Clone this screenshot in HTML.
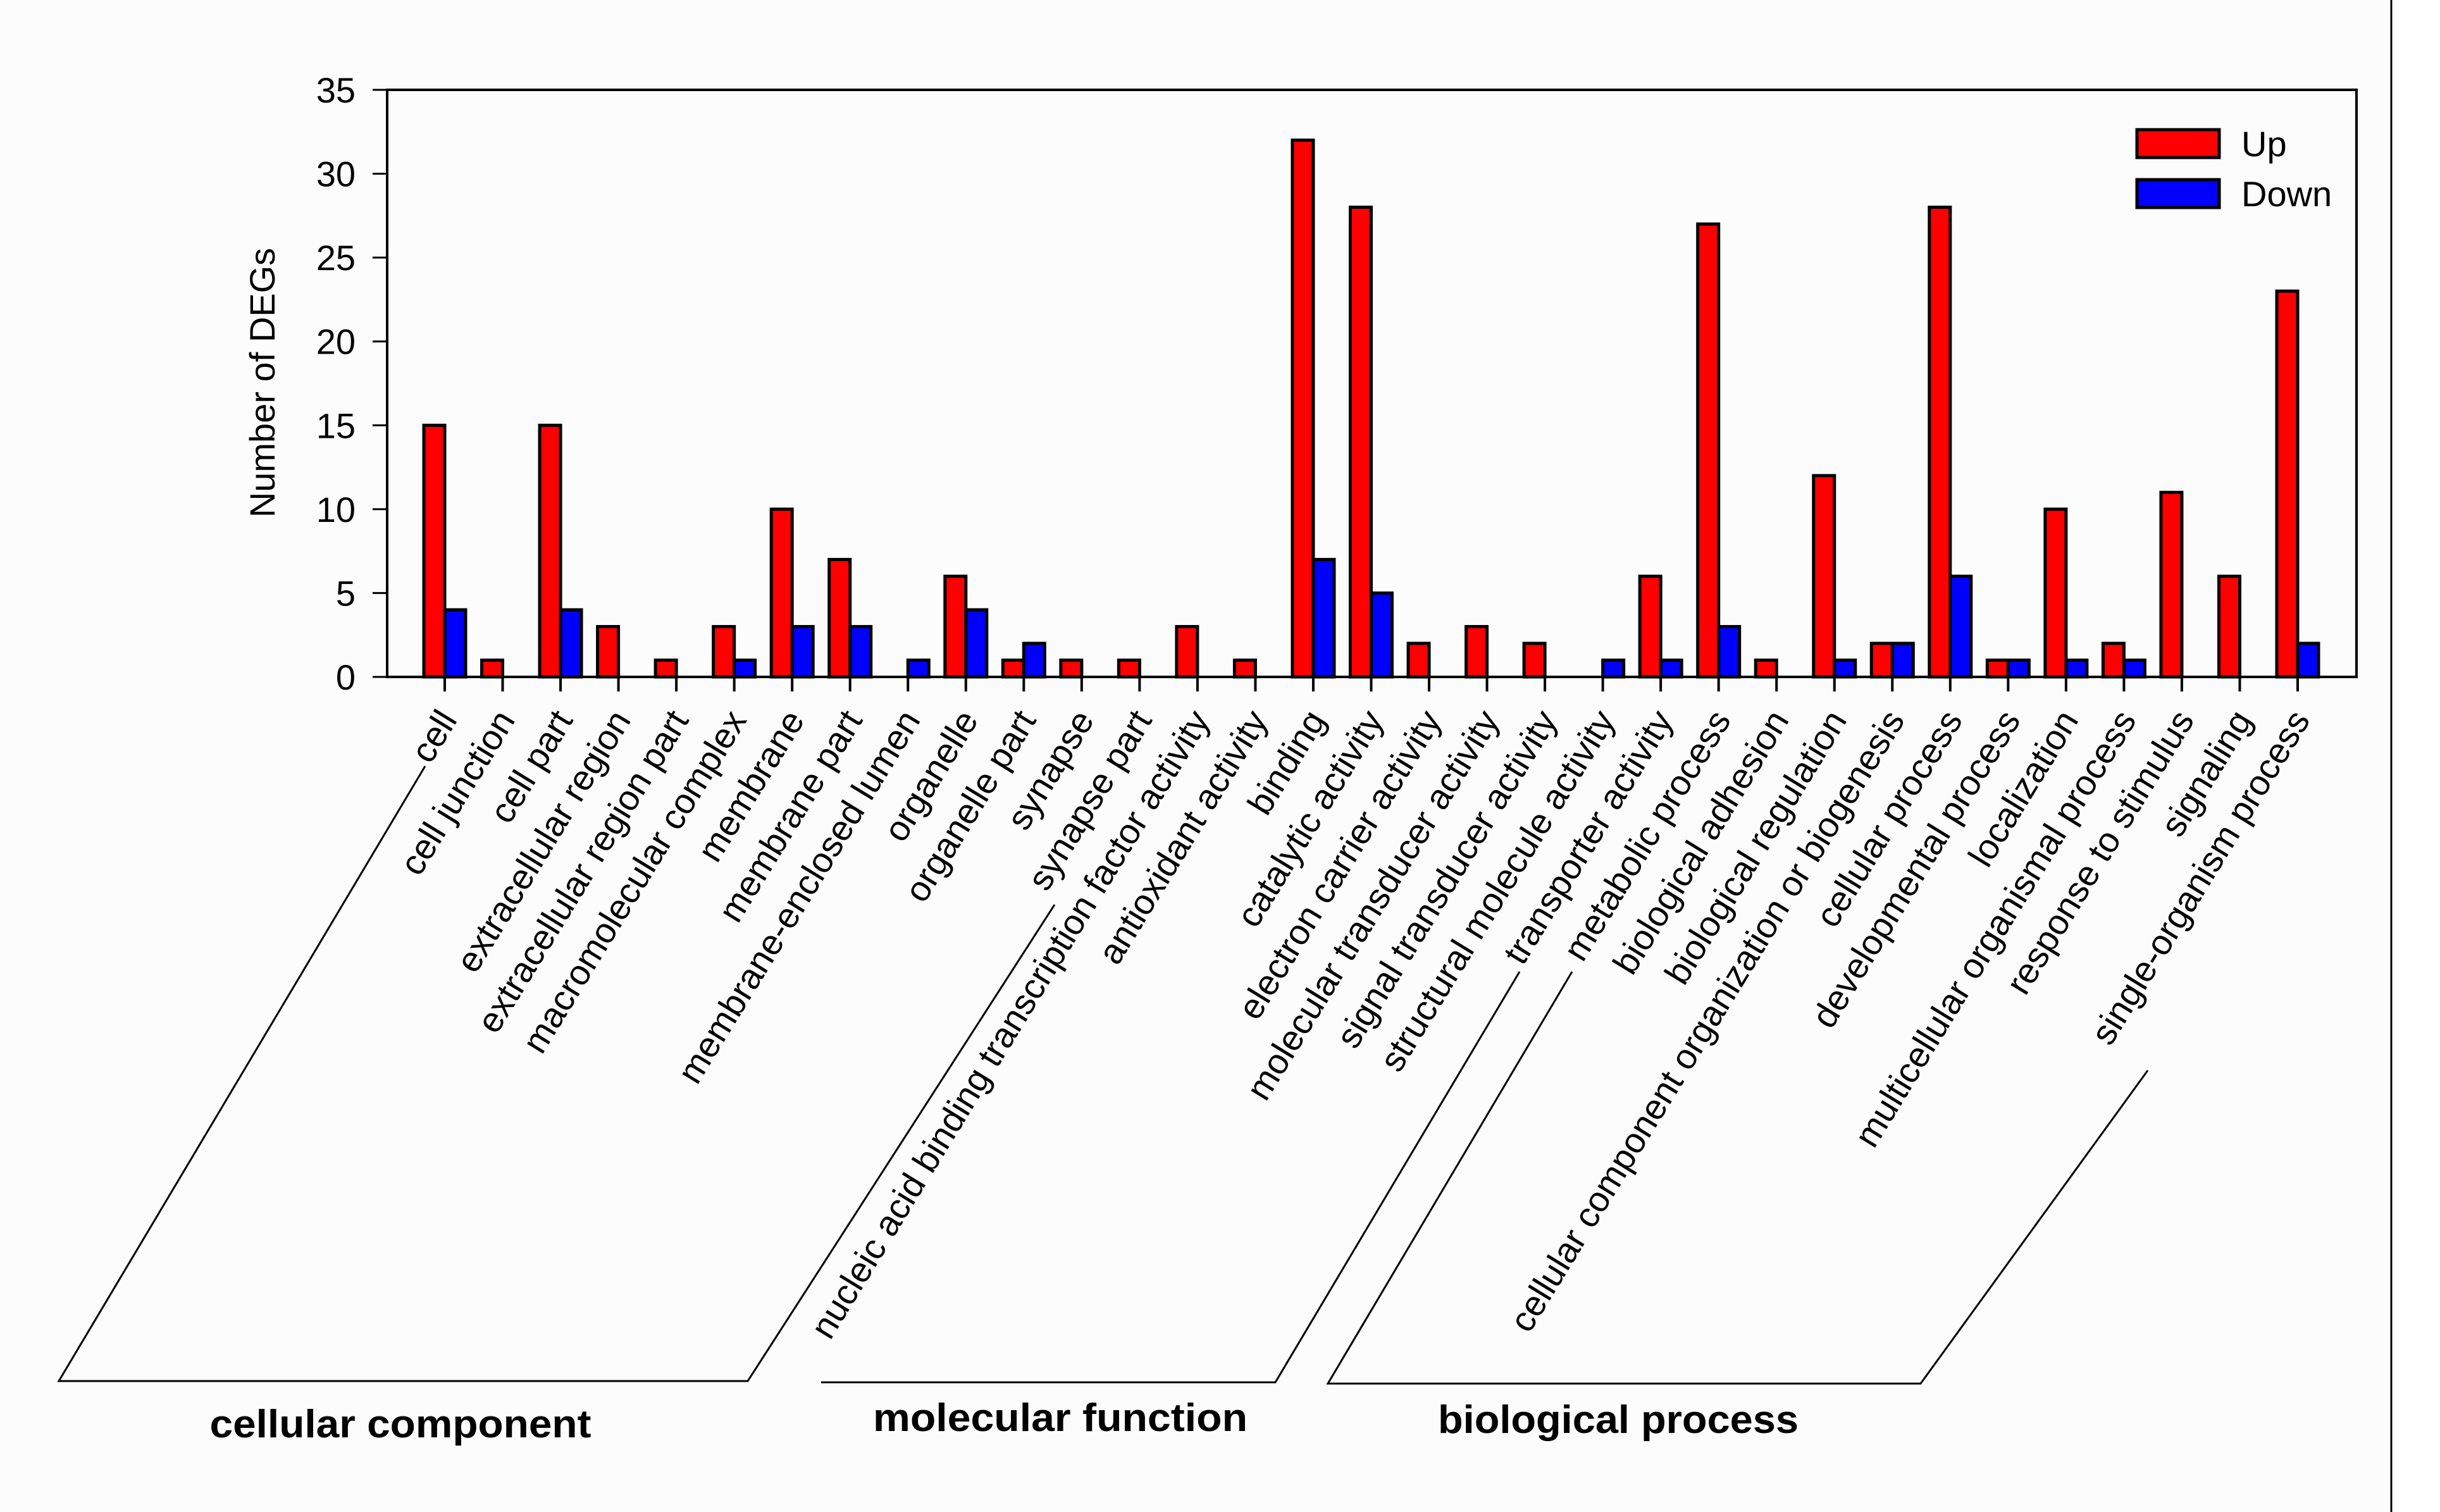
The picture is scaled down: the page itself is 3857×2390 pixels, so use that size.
<!DOCTYPE html>
<html><head><meta charset="utf-8"><style>
html,body{margin:0;padding:0;background:#fff;}
svg{display:block;font-family:"Liberation Sans",Arial,sans-serif;}
</style></head><body>
<svg id="chart" width="3857" height="2390" viewBox="0 0 3857 2390" xmlns="http://www.w3.org/2000/svg">
<rect x="0" y="0" width="3780" height="2390" fill="#fcfcfc"/>
<line x1="3780" y1="0" x2="3780" y2="2390" stroke="#000" stroke-width="3"/>
<g id="plot"></g>
</svg>
<script>
const categories = ["cell","cell junction","cell part","extracellular region","extracellular region part","macromolecular complex","membrane","membrane part","membrane-enclosed lumen","organelle","organelle part","synapse","synapse part","nucleic acid binding transcription factor activity","antioxidant activity","binding","catalytic activity","electron carrier activity","molecular transducer activity","signal transducer activity","structural molecule activity","transporter activity","metabolic process","biological adhesion","biological regulation","cellular component organization or biogenesis","cellular process","developmental process","localization","multicellular organismal process","response to stimulus","signaling","single-organism process"];
const upValues = [15,1,15,3,1,3,10,7,0,6,1,1,1,3,1,32,28,2,3,2,0,6,27,1,12,2,28,1,10,2,11,6,23];
const downValues = [4,0,4,0,0,1,3,3,1,4,2,0,0,0,0,7,5,0,0,0,1,1,3,0,1,2,6,1,1,1,0,0,2];
const yTicks = [0,5,10,15,20,25,30,35];
const seriesNames = ["Up","Down"];

const NS = "http://www.w3.org/2000/svg";
const g = document.getElementById('plot');
const L = 612, R = 3725, T = 142, B = 1070;
const firstTick = 703, lastTick = 3632;
const yMax = 35;
function yScale(v){ return B - (v / yMax) * (B - T); }
function xScale(i){ return firstTick + i * (lastTick - firstTick) / (categories.length - 1); }
function mk(tag, attrs, parent){
  const e = document.createElementNS(NS, tag);
  for (const k in attrs) e.setAttribute(k, attrs[k]);
  (parent || g).appendChild(e);
  return e;
}
const bw = 33;
categories.forEach((c, i) => {
  const cx = xScale(i);
  const u = upValues[i], d = downValues[i];
  if (u > 0) {
    const r = mk('rect', {x: cx - bw, y: yScale(u), width: bw, height: B - yScale(u), fill: '#ff0000', stroke: '#000', 'stroke-width': 5});
    
    
  }
  if (d > 0) {
    const r = mk('rect', {x: cx, y: yScale(d), width: bw, height: B - yScale(d), fill: '#0000ff', stroke: '#000', 'stroke-width': 5});
    
    
  }
  const tk = mk('line', {x1: cx, y1: B, x2: cx, y2: B + 23, stroke: '#000', 'stroke-width': 4});
  
  
  const t = mk('text', {x: 0, y: 0, 'font-size': 56, 'text-anchor': 'end', transform: 'translate(' + (cx + 21) + ',1138) rotate(-58.5)'});
  t.textContent = c;
  
  
});
const fr = mk('rect', {x: L, y: T, width: R - L, height: B - T, fill: 'none', stroke: '#000', 'stroke-width': 4});


yTicks.forEach(v => {
  const y = yScale(v);
  const l = mk('line', {x1: 589, y1: y, x2: L, y2: y, stroke: '#000', 'stroke-width': 3});
  
  
  const t = mk('text', {x: 562, y: y + 20, 'font-size': 56, 'text-anchor': 'end'});
  t.textContent = v;
  
  
});
const yt = mk('text', {x: 0, y: 0, 'font-size': 56, 'text-anchor': 'middle', transform: 'translate(434,605) rotate(-90)'});
yt.textContent = 'Number of DEGs';


const legColors = ['#ff0000', '#0000ff'];
seriesNames.forEach((n, i) => {
  const y0 = 205 + i * 79;
  const r = mk('rect', {x: 3378, y: y0, width: 130, height: 44, fill: legColors[i], stroke: '#000', 'stroke-width': 5});
  
  
  const t = mk('text', {x: 3543, y: y0 + 42, 'font-size': 56});
  t.textContent = n;
  
  
});
</script>
<svg width="3857" height="2390" style="position:absolute;left:0;top:0" xmlns="http://www.w3.org/2000/svg">
<polyline points="672,1211 93,2183 1182,2183 1667,1430" fill="none" stroke="#000" stroke-width="3"/>
<polyline points="1298,2185 2016,2185 2402,1536" fill="none" stroke="#000" stroke-width="3"/>
<polyline points="2485,1536 2099,2187 3036,2187 3395,1692" fill="none" stroke="#000" stroke-width="3"/>
<text x="633" y="2272" font-family="Liberation Sans, Arial, sans-serif" font-weight="bold" font-size="62" text-anchor="middle" textLength="603" lengthAdjust="spacingAndGlyphs">cellular component</text>
<text x="1676" y="2262" font-family="Liberation Sans, Arial, sans-serif" font-weight="bold" font-size="62" text-anchor="middle" textLength="592" lengthAdjust="spacingAndGlyphs">molecular function</text>
<text x="2558" y="2265" font-family="Liberation Sans, Arial, sans-serif" font-weight="bold" font-size="62" text-anchor="middle" textLength="570" lengthAdjust="spacingAndGlyphs">biological process</text>
</svg>
</body></html>
